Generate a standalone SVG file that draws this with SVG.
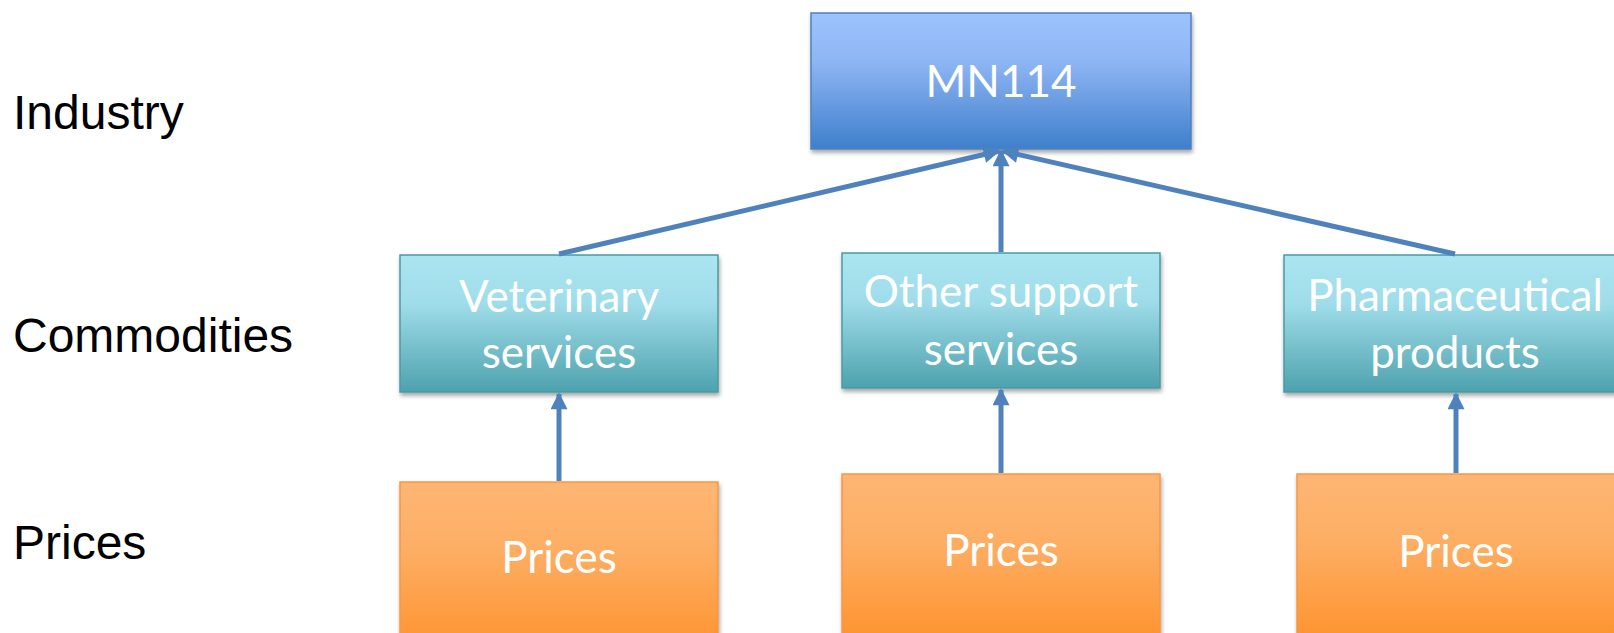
<svg xmlns="http://www.w3.org/2000/svg" width="1614" height="633" viewBox="0 0 1614 633">
<style>
.lbl{font-family:"Liberation Sans",Arial,sans-serif;font-size:48px;fill:#000}
.bt{font-family:Lato,"Open Sans",sans-serif;font-size:44px;fill:#fff;text-anchor:middle}
.conn{stroke:#4F81BD;stroke-width:5;fill:none;marker-end:url(#ah)}
</style>
<defs>
<linearGradient id="gBlue" x1="0" y1="0" x2="0" y2="1"><stop offset="0" stop-color="#9DC3FE"/><stop offset="0.35" stop-color="#8FB6F4"/><stop offset="1" stop-color="#3F7FCC"/></linearGradient>
<linearGradient id="gTeal" x1="0" y1="0" x2="0" y2="1"><stop offset="0" stop-color="#AAE5F0"/><stop offset="0.35" stop-color="#A0DDEA"/><stop offset="1" stop-color="#4DA2AD"/></linearGradient>
<linearGradient id="gOrange" x1="0" y1="0" x2="0" y2="1"><stop offset="0" stop-color="#FDB673"/><stop offset="0.4" stop-color="#FDAE64"/><stop offset="1" stop-color="#FE922D"/></linearGradient>
<filter id="sh" x="-10%" y="-10%" width="120%" height="130%"><feDropShadow dx="1" dy="3" stdDeviation="2" flood-color="#000" flood-opacity="0.35"/></filter>
<marker id="ah" viewBox="0 0 10 10" refX="9" refY="5" markerWidth="3.6" markerHeight="3.4" orient="auto" markerUnits="strokeWidth"><path d="M0,0 L10,5 L0,10 z" fill="#4F81BD"/></marker>
</defs>
<g id="labels">
<text class="lbl" x="13" y="129">Industry</text>
<text class="lbl" x="13" y="352">Commodities</text>
<text class="lbl" x="13" y="559">Prices</text>
</g>
<g id="industry">
<rect x="811" y="13" width="380" height="136" fill="url(#gBlue)" stroke="#4F81BD" stroke-width="1.5" filter="url(#sh)"/>
<text class="bt" x="1001" y="97">MN114</text>
</g>
<g id="veterinary">
<rect x="400" y="255" width="318" height="137" fill="url(#gTeal)" stroke="#4A9AA6" stroke-width="1.5" filter="url(#sh)"/>
<text class="bt" x="559" y="312">Veterinary</text>
<text class="bt" x="559" y="368">services</text>
</g>
<g id="other">
<rect x="842" y="253" width="318" height="135" fill="url(#gTeal)" stroke="#4A9AA6" stroke-width="1.5" filter="url(#sh)"/>
<text class="bt" x="1001" y="307">Other support</text>
<text class="bt" x="1001" y="365">services</text>
</g>
<g id="pharma">
<rect x="1284" y="255" width="345" height="137" fill="url(#gTeal)" stroke="#4A9AA6" stroke-width="1.5" filter="url(#sh)"/>
<text class="bt" x="1455" y="311">Pharmaceutical</text>
<text class="bt" x="1455" y="368">products</text>
</g>
<g id="prices1">
<rect x="400" y="482" width="318" height="170" fill="url(#gOrange)" stroke="#F79646" stroke-width="1.5" filter="url(#sh)"/>
<text class="bt" x="559" y="573">Prices</text>
</g>
<g id="prices2">
<rect x="842" y="474" width="318" height="170" fill="url(#gOrange)" stroke="#F79646" stroke-width="1.5" filter="url(#sh)"/>
<text class="bt" x="1001" y="566">Prices</text>
</g>
<g id="prices3">
<rect x="1297" y="474" width="330" height="170" fill="url(#gOrange)" stroke="#F79646" stroke-width="1.5" filter="url(#sh)"/>
<text class="bt" x="1456" y="567">Prices</text>
</g>
<g id="connectors">
<line class="conn" x1="559" y1="254" x2="999" y2="151"/>
<line class="conn" x1="1001" y1="252" x2="1001" y2="151"/>
<line class="conn" x1="1455" y1="254" x2="1003" y2="151"/>
<line class="conn" x1="559" y1="481" x2="559" y2="394"/>
<line class="conn" x1="1001" y1="473" x2="1001" y2="390"/>
<line class="conn" x1="1456" y1="473" x2="1456" y2="394"/>
</g>
</svg>
